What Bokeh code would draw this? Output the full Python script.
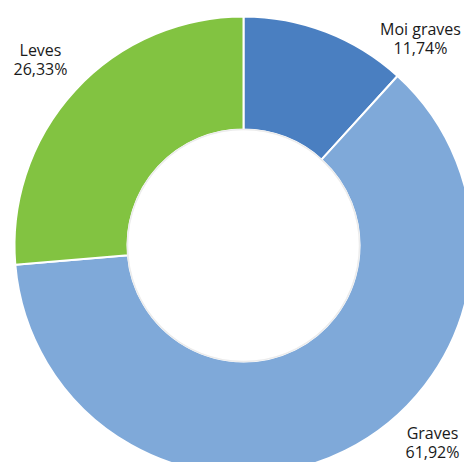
import math
from bokeh.plotting import figure
from bokeh.models import Range1d, ColumnDataSource
from bokeh.core.properties import value
from bokeh.embed import file_html
from bokeh.resources import INLINE

categories = ["Moi graves", "Graves", "Leves"]
percents = [11.74, 61.92, 26.33]
colors = ["#4a7fc1", "#7fa9d9", "#82c341"]

W, H = 464, 462
CX, CY = 243, 217
R_OUT, R_IN = 229, 116
# label anchor (center x, baseline y of first line) in data/pixel units
label_pos = [(420, 434), (432, 30), (40, 413)]
LINE_GAP = 19

total = sum(percents)
starts, ends = [], []
acc = 0.0
for v in percents:
    starts.append(math.pi / 2 - 2 * math.pi * acc / total)
    acc += v
    ends.append(math.pi / 2 - 2 * math.pi * acc / total)

src = ColumnDataSource(dict(start=starts, end=ends, color=colors))

p = figure(width=W, height=H, x_range=Range1d(0, W), y_range=Range1d(0, H),
           output_backend="svg", toolbar_location=None, min_border=0,
           x_axis_type=None, y_axis_type=None, outline_line_color=None)
p.grid.visible = False

p.annular_wedge(x=CX, y=CY, inner_radius=R_IN, outer_radius=R_OUT,
                start_angle="start", end_angle="end", direction="clock",
                fill_color="color", line_color="white", line_width=2, source=src)
p.circle(x=[CX], y=[CY], radius=R_IN, fill_color=None, line_color="#ececec", line_width=1.5)

xs, ys, txt = [], [], []
for name, v, (lx, ly) in zip(categories, percents, label_pos):
    xs += [lx, lx]
    ys += [ly, ly - LINE_GAP]
    txt += [name, ("%.2f" % v).replace(".", ",") + "%"]
p.text(x=xs, y=ys, text=txt, text_align="center", text_baseline="alphabetic",
       text_font=value("Open Sans"), text_font_size="16px", text_color="#1a1a1a")

open("out.html", "w").write(file_html(p, INLINE))
